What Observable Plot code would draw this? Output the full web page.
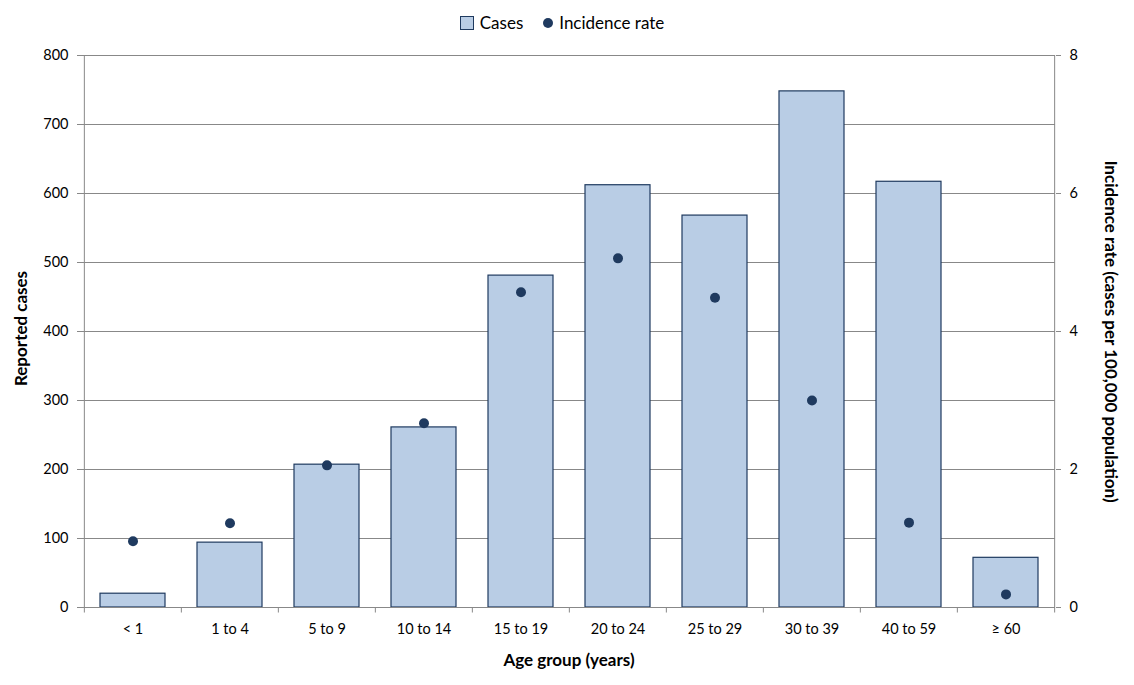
<!DOCTYPE html>
<html>
<head>
<meta charset="utf-8">
<script src="https://cdn.jsdelivr.net/npm/d3@7"></script>
<script src="https://cdn.jsdelivr.net/npm/@observablehq/plot@0.6"></script>
<style>
  body { margin: 0; background: #fff; font-family: Lato, "Open Sans", sans-serif; }
  #legend { height: 40px; display: flex; justify-content: center; align-items: center; gap: 20px; font-size: 17px; color: #000; box-sizing: border-box; padding-top: 5px; padding-right: 10px; }
  #legend .item { display: flex; align-items: center; gap: 6px; }
  #legend .sq { width: 12px; height: 12px; background: #B9CDE5; border: 1px solid #1F3A5F; }
  #legend .dot { width: 10px; height: 10px; border-radius: 50%; background: #1F3A5F; }
</style>
</head>
<body>
<div id="legend">
  <div class="item"><span class="sq"></span><span>Cases</span></div>
  <div class="item"><span class="dot"></span><span>Incidence rate</span></div>
</div>
<div id="chart"></div>
<script>
const ageGroups = ["< 1", "1 to 4", "5 to 9", "10 to 14", "15 to 19", "20 to 24", "25 to 29", "30 to 39", "40 to 59", "≥ 60"];
const cases = [20, 94, 207, 261, 481, 612, 568, 748, 617, 72];
const rates = [0.96, 1.22, 2.06, 2.67, 4.57, 5.06, 4.49, 3.0, 1.23, 0.19];
const caseTicks = [0, 100, 200, 300, 400, 500, 600, 700, 800];
const rateTicks = [0, 2, 4, 6, 8];

const data = ageGroups.map((g, i) => ({group: g, cases: cases[i], rate: rates[i]}));

const W = 1134, H = 645;
const mL = 82, mR = 79, mT = 15, mB = 78;
const step = (W - mL - mR) / ageGroups.length;
const rateFactor = 100; // 8 per 100,000 aligns with 800 cases
const gray = "#888";
const navy = "#1F3A5F";

const chart = Plot.plot({
  width: W, height: H,
  marginLeft: mL, marginRight: mR, marginTop: mT, marginBottom: mB,
  style: {fontFamily: "Lato, 'Open Sans', sans-serif", fontSize: "14px", color: "#000", background: "#fff"},
  x: {domain: ageGroups, padding: 0, label: null},
  y: {domain: [0, 800], label: null},
  marks: [
    Plot.gridY(caseTicks, {stroke: gray, strokeOpacity: 1, strokeWidth: 1}),
    Plot.axisY(caseTicks, {anchor: "left", tickSize: 5, tickPadding: 9, stroke: gray, label: null, fontSize: 14.5}),
    Plot.axisY(rateTicks.map(d => d * rateFactor), {anchor: "right", tickSize: 5, tickPadding: 9, stroke: gray, label: null, fontSize: 14.5, tickFormat: d => d / rateFactor}),
    Plot.barY(data, {x: "group", y: "cases", fill: "#B9CDE5", stroke: navy, strokeWidth: 1.2, insetLeft: 16, insetRight: 16}),
    Plot.ruleY([0], {stroke: gray}),
    // category boundary ticks and side axis lines
    Plot.ruleX(ageGroups, {x: d => d, y1: -8, y2: (d, i) => i === 0 ? 800 : 0, dx: -step / 2, stroke: gray}),
    Plot.ruleX([ageGroups[ageGroups.length - 1]], {x: d => d, y1: -8, y2: 800, dx: step / 2, stroke: gray}),
    Plot.axisX({tickSize: 0, tickPadding: 16, label: null, fontSize: 14.5}),
    Plot.dot(data, {x: "group", y: d => d.rate * rateFactor, r: 5, fill: navy, stroke: null}),
    Plot.text(["Reported cases"], {frameAnchor: "left", textAnchor: "middle", dx: -61, dy: -3, rotate: -90, fontWeight: "bold", fontSize: 17}),
    Plot.text(["Incidence rate (cases per 100,000 population)"], {frameAnchor: "right", textAnchor: "middle", dx: 55, rotate: 90, fontWeight: "bold", fontSize: 17}),
    Plot.text(["Age group (years)"], {frameAnchor: "bottom", dy: 58, fontWeight: "bold", fontSize: 17})
  ]
});
document.getElementById("chart").appendChild(chart);
</script>
</body>
</html>
